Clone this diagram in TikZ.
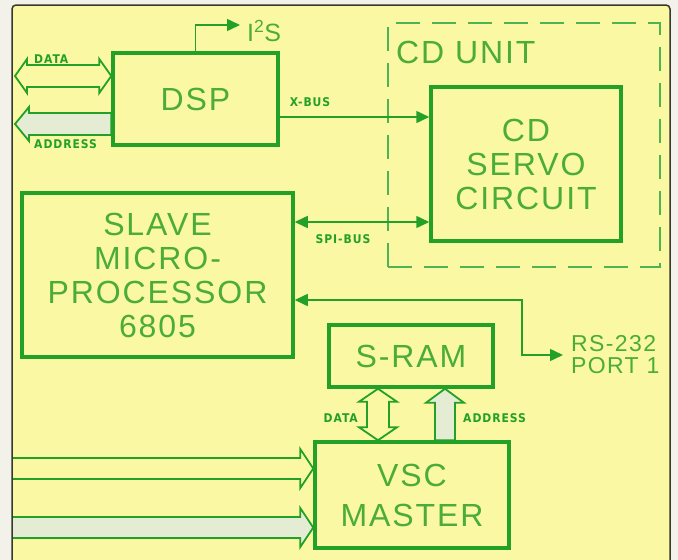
\documentclass[tikz,border=0pt]{standalone}
\usepackage{fontspec}
\setmainfont{Liberation Sans}
\newfontfamily\blockfont[LetterSpace=6]{Liberation Sans}
\newfontfamily\tagfont[LetterSpace=8]{DejaVu Sans Condensed}
\usetikzlibrary{positioning, arrows.meta, calc}
\usepackage{xcolor}
\definecolor{schgreen}{RGB}{35,160,40}
\definecolor{schtext}{RGB}{75,172,55}
\definecolor{schyellow}{RGB}{250,248,162}
\definecolor{buslight}{RGB}{228,236,212}
\definecolor{paper}{RGB}{242,242,234}
\definecolor{framegray}{RGB}{55,55,45}

\begin{document}
\begin{tikzpicture}[x=1pt, y=-1pt,
      block/.style={draw=schgreen, line width=3.5pt, fill=schyellow, text=schtext,
                    inner sep=0pt, align=center,
                    font={\blockfont\fontsize{32}{34}\selectfont}},
      tag/.style={text=schgreen, inner sep=1pt,
                  font={\tagfont\bfseries\fontsize{12}{12}\selectfont}},
      wire/.style={draw=schgreen, line width=1.5pt},
      tip/.style={-{Triangle[length=13pt, width=12pt]}},
      tips/.style={{Triangle[length=13pt, width=12pt]}-{Triangle[length=13pt, width=12pt]}},
      bus/.style={draw=schgreen, line width=1.8pt, line join=miter, fill=schyellow},
      busfill/.style={bus, fill=buslight},
      unitbox/.style={draw=schgreen!80, line width=1.6pt, dash pattern=on 24pt off 12pt}]
    \useasboundingbox (0,0) rectangle (678,560);
    \fill[paper] (0,0) rectangle (678,560);
    \fill[schyellow] (12,5) rectangle (670,560);
    \draw[framegray, line width=1.5pt, rounded corners=4pt] (12,562) -- (12,5) -- (670,5) -- (670,562);

    % CD unit group
    \node[unitbox, minimum width=272pt, minimum height=244pt] (cdunit) at (524,145) {};
    \node[anchor=west, text=schtext, inner sep=0pt,
          font={\blockfont\fontsize{32}{34}\selectfont}] (cdunitlabel) at (396,52) {CD UNIT};

    % blocks
    \node[block, minimum width=165pt, minimum height=92pt]  (dsp)   at (195.5,99) {DSP};
    \node[block, minimum width=190pt, minimum height=154pt] (servo) at (526,164)  {CD\\SERVO\\CIRCUIT};
    \node[block, minimum width=271pt, minimum height=164pt] (slave) at (157.5,275) {SLAVE\\MICRO-\\PROCESSOR\\6805};
    \node[block, minimum width=164pt, minimum height=62pt]  (sram)  at (411,356)  {S-RAM};
    \node[block, minimum width=194pt, minimum height=106pt,
          font={\blockfont\fontsize{32}{40}\selectfont}] (vsc) at (412,495) {VSC\\MASTER};

    % I2S output
    \coordinate (i2s) at (240,25);
    \draw[wire, tip] (dsp.north) |- (i2s);
    \node[anchor=west, text=schtext, inner sep=0pt,
          font={\blockfont\fontsize{25}{25}\selectfont}] (i2slabel) at ($(i2s)+(7,6)$) {I\textsuperscript{2}S};

    % serial links
    \draw[wire, tip]  (dsp.east |- 0,117) -- (servo.west |- 0,117);
    \node[tag] (xbuslabel) at (310,102) {X-BUS};
    \draw[wire, tips] (slave.east |- 0,222) -- (servo.west |- 0,222);
    \node[tag] (spilabel) at (343,239) {SPI-BUS};
    \coordinate (rs) at (563,355);
    \draw[wire, tips] (slave.east |- 0,300) -- (522,300) |- (rs);
    \node[anchor=west, align=left, text=schtext, inner sep=0pt,
          font={\blockfont\fontsize{23}{22}\selectfont}] (rslabel) at ($(rs)+(8,0)$) {RS-232\\PORT 1};

    % DSP data and address buses
    \coordinate (datal) at (15,76);
    \coordinate (datar) at (dsp.west |- datal);
    \draw[bus] (datal) -- ++(12,-17) -- ++(0,6) -- ($(datar)+(-12,-11)$) -- ++(0,-6) -- (datar)
      -- ++(-12,17) -- ++(0,-6) -- ($(datal)+(12,11)$) -- ++(0,6) -- cycle;
    \node[tag, anchor=west] (datalabel) at (33,59) {DATA};
    \coordinate (addrl) at (15,124);
    \coordinate (addrr) at (dsp.west |- addrl);
    \draw[busfill] (addrl) -- ++(14,-17) -- ++(0,6) -- ($(addrr)+(0,-11)$) -- ($(addrr)+(0,11)$)
      -- ($(addrl)+(14,11)$) -- ++(0,6) -- cycle;
    \node[tag, anchor=west] (addrlabel) at (33,144) {ADDRESS};

    % S-RAM buses
    \coordinate (vdtop) at (378,0 |- sram.south);
    \coordinate (vdbot) at (378,0 |- vsc.north);
    \draw[bus] (vdtop) -- ++(19,13) -- ++(-8,0) -- ($(vdbot)+(11,-13)$) -- ++(8,0) -- (vdbot)
      -- ++(-19,-13) -- ++(8,0) -- ($(vdtop)+(-11,13)$) -- ++(-8,0) -- cycle;
    \node[tag, anchor=east] (vdlabel) at (359,418) {DATA};
    \coordinate (attop) at (445,0 |- sram.south);
    \coordinate (atbot) at (445,0 |- vsc.north);
    \draw[busfill] (attop) -- ++(19,14) -- ++(-9,0) -- ($(atbot)+(10,0)$) -- ($(atbot)+(-10,0)$)
      -- ($(attop)+(-10,14)$) -- ++(-9,0) -- cycle;
    \node[tag, anchor=west] (atlabel) at (462,418) {ADDRESS};

    % VSC input buses
    \coordinate (vin1) at (13,468.5);
    \coordinate (vtip1) at (vsc.west |- vin1);
    \draw[bus] ($(vin1)+(0,-10.5)$) -- ($(vtip1)+(-13,-10.5)$) -- ++(0,-9) -- (vtip1)
      -- ++(-13,19.5) -- ++(0,-9) -- ($(vin1)+(0,10.5)$);
    \coordinate (vin2) at (13,527.5);
    \coordinate (vtip2) at (vsc.west |- vin2);
    \draw[busfill] ($(vin2)+(0,-10.5)$) -- ($(vtip2)+(-13,-10.5)$) -- ++(0,-9) -- (vtip2)
      -- ++(-13,19.5) -- ++(0,-9) -- ($(vin2)+(0,10.5)$);
  \end{tikzpicture}
\end{document}
